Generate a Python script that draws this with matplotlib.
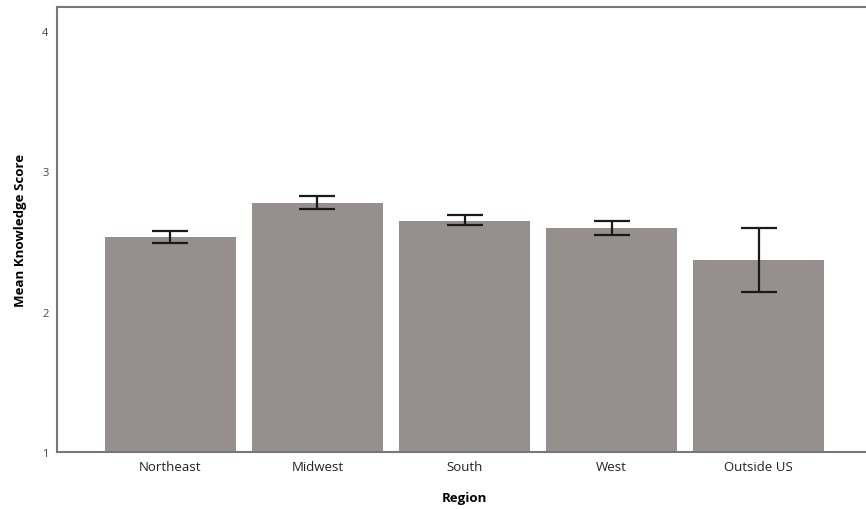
import matplotlib
matplotlib.use("Agg")
import matplotlib.pyplot as plt

regions = ["Northeast", "Midwest", "South", "West", "Outside US"]
means = [2.532, 2.776, 2.648, 2.597, 2.366]
ci_low = [2.487, 2.734, 2.618, 2.547, 2.143]
ci_high = [2.575, 2.825, 2.689, 2.646, 2.594]

plt.rcParams["font.family"] = ["Open Sans", "DejaVu Sans"]

fig = plt.figure(figsize=(8.66, 5.10), dpi=100)
ax = fig.add_axes([57 / 866, 1 - 453 / 510, (872 - 57) / 866, (453 - 8) / 510])

x = list(range(len(regions)))
err_lo = [m - l for m, l in zip(means, ci_low)]
err_hi = [h - m for m, h in zip(means, ci_high)]

ax.bar(x, [m - 1 for m in means], bottom=1, width=0.89, color="#958f8e", zorder=2)
ax.errorbar(x, means, yerr=[err_lo, err_hi], fmt="none", ecolor="#1a1a1a",
            elinewidth=1.6, capsize=13, capthick=1.6, zorder=3)

ax.set_xlim(-0.77, 4.77)
ax.set_ylim(1, 4.17)
ax.set_yticks([1, 2, 3, 4])
ax.set_yticklabels(["1", "2", "3", "4"], fontsize=8, color="#444444")
ax.set_xticks(x)
ax.set_xticklabels(regions, fontsize=9.5, color="#222222")
ax.tick_params(axis="both", length=0)
ax.tick_params(axis="y", pad=6)
ax.tick_params(axis="x", pad=6)

for side in ["left", "bottom", "top", "right"]:
    ax.spines[side].set_color("#777777")
    ax.spines[side].set_linewidth(1.5)

ax.set_xlabel("Region", fontsize=9.5, fontweight="bold", labelpad=13)
ax.set_ylabel("Mean Knowledge Score", fontsize=9.5, fontweight="bold", labelpad=11)

fig.savefig("out.png", dpi=100)
